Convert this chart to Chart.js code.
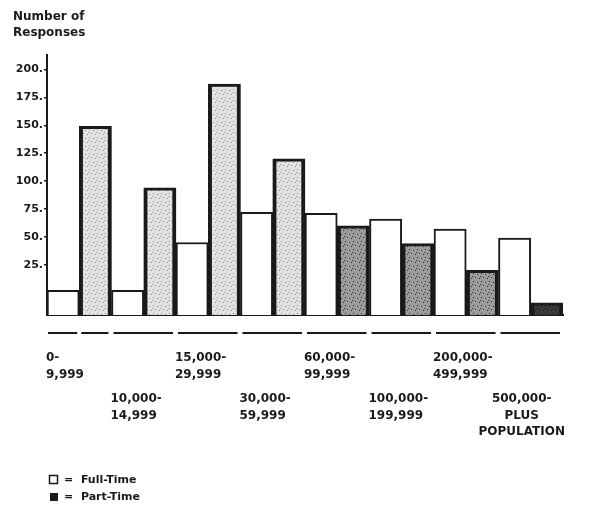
<!DOCTYPE html>
<html>
<head>
<meta charset="utf-8">
<script src="https://cdn.jsdelivr.net/npm/chart.js@4.4.1/dist/chart.umd.min.js"></script>
<style>
  html, body { margin: 0; padding: 0; background: #fff; }
  #wrap { width: 606px; height: 505px; }
</style>
</head>
<body>
<div id="wrap"><canvas id="chart" width="606" height="505"></canvas></div>
<script>
// population ranges, one group of two bars each
const categories = [
  ['0-', '9,999'],
  ['10,000-', '14,999'],
  ['15,000-', '29,999'],
  ['30,000-', '59,999'],
  ['60,000-', '99,999'],
  ['100,000-', '199,999'],
  ['200,000-', '499,999'],
  ['500,000-', 'PLUS', 'POPULATION']
];
// values as read against the printed tick scale
const fullTime = [2, 2, 45, 72, 71, 66, 57, 49];
const partTime = [149, 94, 187, 120, 60, 44, 20, -9];
const yTicks = [25, 50, 75, 100, 125, 150, 175, 200];
const Y_MIN = -20;
const Y_MAX = 213;

const FONT = '"DejaVu Sans", Arial, sans-serif';
const INK = '#1a1a1a';

function stipple(bg, dot) {
  const c = document.createElement('canvas');
  c.width = 8; c.height = 8;
  const g = c.getContext('2d');
  g.fillStyle = bg;
  g.fillRect(0, 0, 8, 8);
  g.fillStyle = dot;
  [[1, 1], [5, 2], [3, 5], [7, 6], [0, 4]].forEach(([x, y]) => g.fillRect(x, y, 1, 1));
  return g.createPattern(c, 'repeat');
}

const ctx0 = document.getElementById('chart').getContext('2d');
const lightFill = stipple('#e2e2e2', '#8a8a8a');
const midFill = stipple('#9c9c9c', '#2a2a2a');
const darkFill = stipple('#3a3a3a', '#111');
const ptFills = [lightFill, lightFill, lightFill, lightFill, midFill, midFill, midFill, darkFill];

const extras = {
  id: 'extras',
  afterDraw(chart) {
    const { ctx, scales: { x } } = chart;
    const n = categories.length;
    const step = (x.right - x.left) / n;
    ctx.save();
    // broken rule under the baseline
    ctx.strokeStyle = INK;
    ctx.lineWidth = 2;
    const ry = 333;
    for (let i = 0; i < n; i++) {
      const l = x.left + i * step;
      ctx.beginPath();
      if (i === 0) {
        ctx.moveTo(l + 1, ry); ctx.lineTo(l + step / 2 - 2, ry);
        ctx.moveTo(l + step / 2 + 2, ry); ctx.lineTo(l + step - 3, ry);
      } else {
        ctx.moveTo(l + 2, ry); ctx.lineTo(l + step - 3, ry);
      }
      ctx.stroke();
    }
    // staggered category labels
    ctx.fillStyle = INK;
    ctx.font = 'bold 12px ' + FONT;
    ctx.textBaseline = 'middle';
    categories.forEach((lines, i) => {
      const l = x.left + i * step;
      const y0 = i % 2 === 0 ? 358 : 399;
      const last = i === n - 1;
      ctx.textAlign = last ? 'center' : 'left';
      const tx = last ? l + step * 0.36 : l - 1;
      lines.forEach((t, k) => ctx.fillText(t, tx, y0 + k * 16.5));
    });
    // axis title
    ctx.textAlign = 'left';
    ctx.font = 'bold 12px ' + FONT;
    ctx.fillText('Number of', 13, 17);
    ctx.fillText('Responses', 13, 33);
    // legend
    ctx.lineWidth = 1.5;
    ctx.strokeRect(49.5, 475.5, 8, 8);
    ctx.fillRect(50, 493, 8, 8);
    ctx.font = 'bold 11px ' + FONT;
    ctx.fillText('=  Full-Time', 64, 480);
    ctx.fillText('=  Part-Time', 64, 497);
    ctx.restore();
  }
};

new Chart(ctx0, {
  type: 'bar',
  plugins: [extras],
  data: {
    labels: categories.map(c => c.join(' ')),
    datasets: [
      {
        label: 'Full-Time',
        data: fullTime,
        base: Y_MIN,
        backgroundColor: '#fff',
        borderColor: INK,
        borderWidth: { top: 2, left: 2, right: 2, bottom: 0 },
        borderSkipped: false,
        categoryPercentage: 1,
        barPercentage: 1
      },
      {
        label: 'Part-Time',
        data: partTime,
        base: Y_MIN,
        backgroundColor: ptFills,
        borderColor: INK,
        borderWidth: { top: 3, left: 4, right: 4, bottom: 0 },
        borderSkipped: false,
        categoryPercentage: 1,
        barPercentage: 1
      }
    ]
  },
  options: {
    responsive: false,
    animation: false,
    layout: { padding: { top: 55, right: 43, bottom: 190, left: 0 } },
    scales: {
      x: {
        afterFit(axis) { axis.height = 0; },
        grid: { display: false },
        border: { display: true, color: INK, width: 2 },
        ticks: { display: false }
      },
      y: {
        min: Y_MIN,
        max: Y_MAX,
        afterBuildTicks(axis) { axis.ticks = yTicks.map(v => ({ value: v })); },
        afterFit(axis) { axis.width = 47; },
        grid: { drawOnChartArea: false, color: INK, tickLength: 3, lineWidth: 1.5 },
        border: { display: true, color: INK, width: 2 },
        ticks: {
          color: INK,
          padding: 1,
          font: { family: FONT, size: 11, weight: 'bold' },
          callback: v => v + '.'
        }
      }
    },
    plugins: {
      legend: { display: false },
      tooltip: { enabled: false }
    }
  }
});
</script>
</body>
</html>
